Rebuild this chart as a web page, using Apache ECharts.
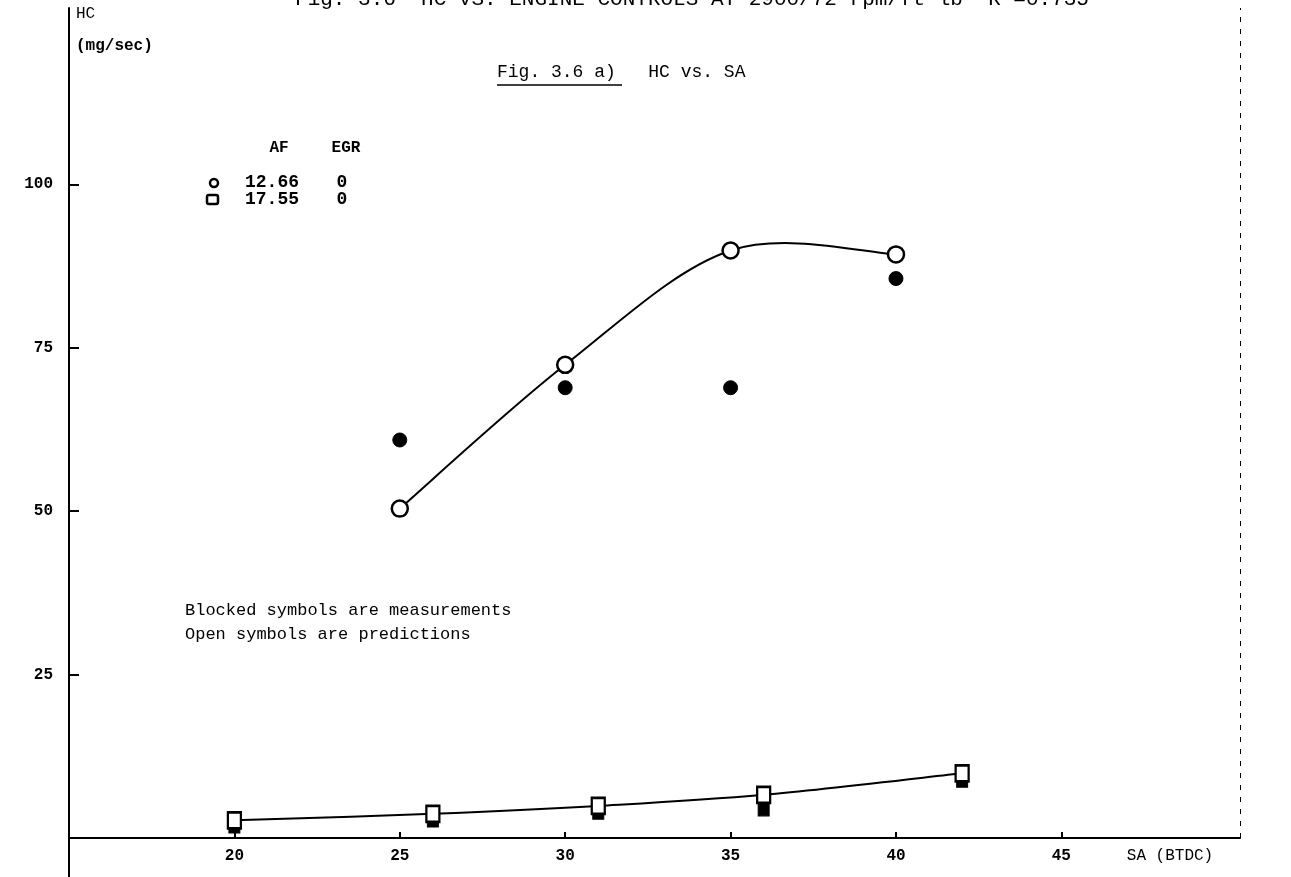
<!DOCTYPE html>
<html>
<head>
<meta charset="utf-8">
<script src="https://cdn.jsdelivr.net/npm/echarts@6/dist/echarts.min.js"></script>
<style>
html,body{margin:0;padding:0;background:#fff;}
#main{width:1291px;height:877px;}
</style>
</head>
<body>
<div id="main"></div>
<script>
// ---- data ----
const xTicks = [20, 25, 30, 35, 40, 45];
const yTicks = [25, 50, 75, 100];
const saCircle = [25, 30, 35, 40];
const hcCirclePred = [50.4, 72.4, 89.9, 89.3];
const hcCircleMeas = [60.9, 68.9, 68.9, 85.6];
const saSquare = [20, 26, 31, 36, 42];
const hcSquarePred = [2.7, 3.7, 4.9, 6.6, 9.9];
const hcSquareMeas = [1.7, 2.6, 3.8, 4.3, 8.7];
const legendHeader = ['AF', 'EGR'];
const legendRows = [['12.66', '0'], ['17.55', '0']];

const FONT = "'Liberation Mono', 'DejaVu Sans Mono', monospace";
const zip = (xs, ys) => xs.map((x, i) => [x, ys[i]]);

// smooth (Catmull-Rom) curve through the data points, drawn via the axis scales
function curveSeries(name, xs, ys) {
  const pts = zip(xs, ys);
  return {
    name: name, type: 'custom', data: pts, z: 2, silent: true,
    renderItem: function (params, api) {
      const i = params.dataIndex;
      const n = pts.length;
      if (i >= n - 1) return null;
      const p0 = api.coord(pts[Math.max(i - 1, 0)]);
      const p1 = api.coord(pts[i]);
      const p2 = api.coord(pts[i + 1]);
      const p3 = api.coord(pts[Math.min(i + 2, n - 1)]);
      return {
        type: 'bezierCurve',
        shape: {
          x1: p1[0], y1: p1[1], x2: p2[0], y2: p2[1],
          cpx1: p1[0] + (p2[0] - p0[0]) / 6, cpy1: p1[1] + (p2[1] - p0[1]) / 6,
          cpx2: p2[0] - (p3[0] - p1[0]) / 6, cpy2: p2[1] - (p3[1] - p1[1]) / 6
        },
        style: {stroke: '#000', lineWidth: 2, fill: null}
      };
    }
  };
}

const chart = echarts.init(document.getElementById('main'), null, {renderer: 'canvas'});
chart.setOption({
  backgroundColor: '#ffffff',
  animation: false,
  grid: {left: 69, right: 51, top: 8, bottom: 39, containLabel: false, outerBoundsMode: 'none'},
  xAxis: {
    type: 'value', min: 15, max: 50.4,
    axisLine: {onZero: false, lineStyle: {color: '#000', width: 2}},
    axisTick: {inside: true, length: 6, customValues: xTicks, lineStyle: {color: '#000', width: 2}},
    axisLabel: {customValues: xTicks, color: '#000', fontFamily: FONT, fontSize: 16, fontWeight: 'bold', margin: 10},
    splitLine: {show: false},
    name: 'SA (BTDC)', nameLocation: 'end', nameGap: -70,
    nameTextStyle: {color: '#000', fontFamily: FONT, fontSize: 16, align: 'center', verticalAlign: 'top', padding: [10, 0, 0, 0]}
  },
  yAxis: {
    type: 'value', min: 0, max: 127,
    axisLine: {onZero: false, lineStyle: {color: '#000', width: 2}},
    axisTick: {inside: true, length: 10, customValues: yTicks, lineStyle: {color: '#000', width: 2}},
    axisLabel: {customValues: yTicks, color: '#000', fontFamily: FONT, fontSize: 16, fontWeight: 'bold', margin: 16},
    splitLine: {show: false}
  },
  series: [
    curveSeries('AF 12.66 fit', saCircle, hcCirclePred),
    curveSeries('AF 17.55 fit', saSquare, hcSquarePred),
    {
      name: 'AF 12.66 predictions', type: 'scatter',
      data: zip(saCircle, hcCirclePred),
      symbol: 'circle', symbolSize: 16,
      itemStyle: {color: '#fff', borderColor: '#000', borderWidth: 2.5, opacity: 1},
      markLine: {
        silent: true, symbol: 'none', label: {show: false},
        lineStyle: {color: '#000', width: 1, type: [5, 7]},
        data: [{xAxis: 50.4}]
      },
      z: 4
    },
    {
      name: 'AF 12.66 measurements', type: 'scatter',
      data: zip(saCircle, hcCircleMeas),
      symbol: 'circle', symbolSize: 14,
      itemStyle: {color: '#000', borderColor: '#000', borderWidth: 1, opacity: 1},
      z: 3
    },
    {
      name: 'AF 17.55 measurements', type: 'scatter',
      data: zip(saSquare, hcSquareMeas),
      symbol: 'rect', symbolSize: [11, 12],
      itemStyle: {color: '#000', borderColor: '#000', borderWidth: 1, opacity: 1},
      z: 3
    },
    {
      name: 'AF 17.55 predictions', type: 'scatter',
      data: zip(saSquare, hcSquarePred),
      symbol: 'rect', symbolSize: [13, 16],
      itemStyle: {color: '#fff', borderColor: '#000', borderWidth: 2.5, opacity: 1},
      z: 4
    }
  ],
  graphic: [
    {type: 'line', shape: {x1: 69, y1: 838, x2: 69, y2: 877}, style: {stroke: '#000', lineWidth: 2}},
    {type: 'text', x: 692, y: -11, style: {text: 'Fig. 3.6  HC VS. ENGINE CONTROLS AT 2900/72 rpm/ft lb  R =0.735', fontFamily: FONT, fontSize: 21, fill: '#000', align: 'center'}},
    {type: 'text', left: 76, top: 6, style: {text: 'HC', fontFamily: FONT, fontSize: 16, fill: '#000'}},
    {type: 'text', left: 76, top: 38, style: {text: '(mg/sec)', fontFamily: FONT, fontSize: 16, fontWeight: 'bold', fill: '#000'}},
    {type: 'text', left: 497, top: 63, style: {text: 'Fig. 3.6 a)   HC vs. SA', fontFamily: FONT, fontSize: 18, fill: '#000'}},
    {type: 'line', shape: {x1: 497, y1: 85, x2: 622, y2: 85}, style: {stroke: '#000', lineWidth: 1.5}},
    {type: 'text', x: 279, y: 148, style: {text: legendHeader[0], fontFamily: FONT, fontSize: 16, fontWeight: 'bold', fill: '#000', align: 'center', verticalAlign: 'middle'}},
    {type: 'text', x: 346, y: 148, style: {text: legendHeader[1], fontFamily: FONT, fontSize: 16, fontWeight: 'bold', fill: '#000', align: 'center', verticalAlign: 'middle'}},
    {type: 'circle', shape: {cx: 214, cy: 183, r: 4}, style: {fill: '#fff', stroke: '#000', lineWidth: 2.5}},
    {type: 'text', x: 272, y: 182, style: {text: legendRows[0][0], fontFamily: FONT, fontSize: 18, fontWeight: 'bold', fill: '#000', align: 'center', verticalAlign: 'middle'}},
    {type: 'text', x: 342, y: 182, style: {text: legendRows[0][1], fontFamily: FONT, fontSize: 18, fontWeight: 'bold', fill: '#000', align: 'center', verticalAlign: 'middle'}},
    {type: 'rect', shape: {x: 207, y: 195, width: 11, height: 9, r: 2}, style: {fill: '#fff', stroke: '#000', lineWidth: 2.5}},
    {type: 'text', x: 272, y: 199, style: {text: legendRows[1][0], fontFamily: FONT, fontSize: 18, fontWeight: 'bold', fill: '#000', align: 'center', verticalAlign: 'middle'}},
    {type: 'text', x: 342, y: 199, style: {text: legendRows[1][1], fontFamily: FONT, fontSize: 18, fontWeight: 'bold', fill: '#000', align: 'center', verticalAlign: 'middle'}},
    {type: 'text', left: 185, top: 598, style: {text: 'Blocked symbols are measurements\nOpen symbols are predictions', fontFamily: FONT, fontSize: 17, lineHeight: 24, fill: '#000'}}
  ]
});
</script>
</body>
</html>
